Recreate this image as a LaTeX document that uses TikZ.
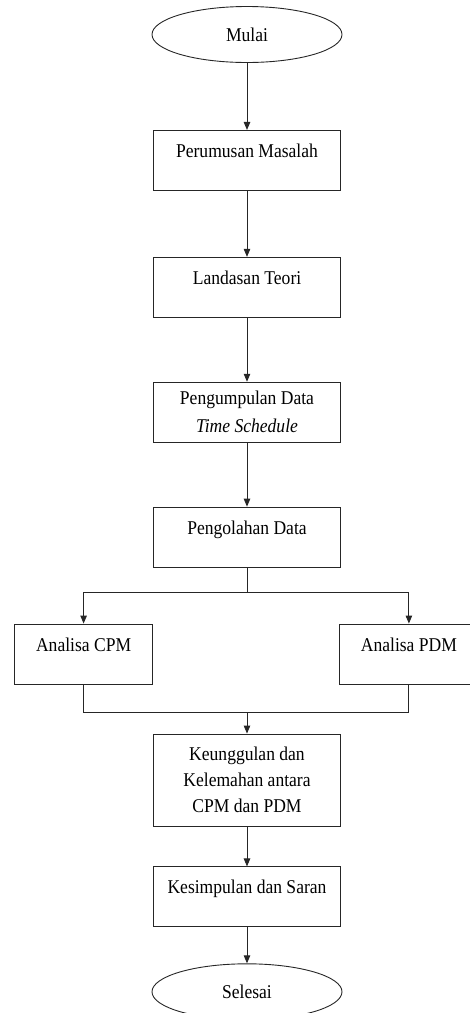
\documentclass[tikz,border=0pt]{standalone}
\usepackage{fontspec}
\setmainfont{Liberation Serif}[FakeStretch=0.9]
\usetikzlibrary{positioning,arrows.meta,shapes.geometric}

\begin{document}
\begin{tikzpicture}[
    x=1pt, y=-1pt,
    font=\fontsize{19.5}{26}\selectfont,
    line width=0.9pt,
    terminal/.style={ellipse, draw=black!85, minimum width=190pt, minimum height=56pt, inner sep=0pt},
    process/.style={rectangle, draw=black!85, minimum width=187pt, inner sep=0pt,
        text height=27pt, text depth=33pt},
    sidebox/.style={process, minimum width=138pt},
    longbox/.style={rectangle, draw=black!85, minimum width=187pt, minimum height=60pt,
        inner sep=0pt, align=center},
    flow/.style={draw=black!85, -{Triangle[length=8pt,width=6.5pt]}},
]
\useasboundingbox (0,0) rectangle (470,1013);
\clip (0,0) rectangle (470,1013);

% main column
\node[terminal] (mulai) at (247,34.5) {Mulai};
\node[process, below=67pt of mulai] (perumusan) {Perumusan Masalah};
\node[process, below=66pt of perumusan] (landasan) {Landasan Teori};
\node[longbox, below=64pt of landasan] (pengumpulan) {Pengumpulan Data\\[2pt]\textit{Time Schedule}};
\node[process, below=64pt of pengumpulan] (pengolahan) {Pengolahan Data};

% two analyses
\node[sidebox, below left=56pt and 0pt of pengolahan.south west] (cpm) {Analisa CPM};
\node[sidebox, below right=56pt and -1.5pt of pengolahan.south east] (pdm) {Analisa PDM};

\node[longbox, minimum height=92pt, below=166pt of pengolahan] (keunggulan) {Keunggulan dan\\Kelemahan antara\\CPM dan PDM};
\node[process, below=40pt of keunggulan] (kesimpulan) {Kesimpulan dan Saran};
\node[terminal, below=36pt of kesimpulan] (selesai) {Selesai};

\coordinate[below=25pt of pengolahan] (split);
\coordinate[above=21pt of keunggulan] (join);

% connectors
\draw[flow] (mulai) -- (perumusan);
\draw[flow] (perumusan) -- (landasan);
\draw[flow] (landasan) -- (pengumpulan);
\draw[flow] (pengumpulan) -- (pengolahan);
\draw[draw=black!85] (pengolahan) -- (split);
\draw[flow] (split) -| (cpm);
\draw[flow] (split) -| (pdm);
\draw[draw=black!85] (cpm) |- (join) -| (pdm);
\draw[flow] (join) -- (keunggulan);
\draw[flow] (keunggulan) -- (kesimpulan);
\draw[flow] (kesimpulan) -- (selesai);
\end{tikzpicture}
\end{document}
